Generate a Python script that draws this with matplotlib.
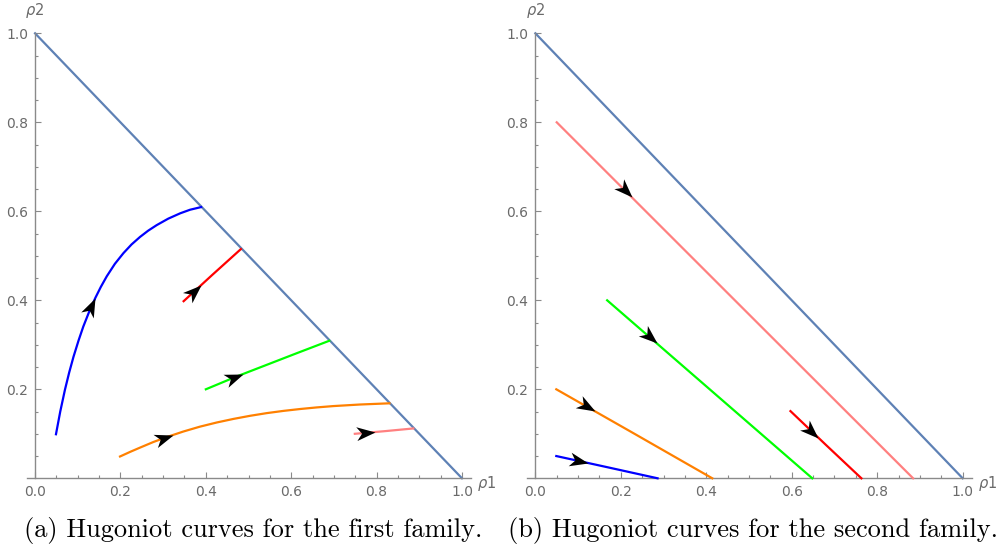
import numpy as np
import matplotlib
matplotlib.use('Agg')
import matplotlib.pyplot as plt
from matplotlib.path import Path
from matplotlib.markers import MarkerStyle
from matplotlib.transforms import Affine2D

# Curve data: (rho1, rho2) points
# first family (left panel)
fam1_blue_x = [0.049, 0.059, 0.070, 0.080, 0.090, 0.102, 0.113, 0.127, 0.141, 0.154,
               0.168, 0.187, 0.207, 0.226, 0.246, 0.265, 0.285, 0.312, 0.340, 0.363, 0.389]
fam1_blue_y = [0.099, 0.150, 0.199, 0.238, 0.273, 0.310, 0.341, 0.375, 0.405, 0.430,
               0.454, 0.482, 0.506, 0.5255, 0.5425, 0.5565, 0.569, 0.5835, 0.5955, 0.6035, 0.6095]
fam1_red_x = [0.348, 0.415, 0.482]
fam1_red_y = [0.398, 0.457, 0.515]
fam1_green_x = [0.400, 0.470, 0.540, 0.610, 0.689]
fam1_green_y = [0.200, 0.228, 0.254, 0.280, 0.309]
fam1_orange_x = [0.199, 0.223, 0.246, 0.277, 0.308, 0.347, 0.386, 0.426, 0.465, 0.504,
                 0.543, 0.582, 0.621, 0.660, 0.699, 0.761, 0.830]
fam1_orange_y = [0.049, 0.0595, 0.069, 0.0815, 0.0925, 0.105, 0.116, 0.1255, 0.1335, 0.1405,
                 0.1465, 0.1515, 0.1557, 0.1593, 0.1623, 0.1658, 0.1685]
fam1_pink_x = [0.749, 0.820, 0.886]
fam1_pink_y = [0.100, 0.106, 0.112]

# second family (right panel)
fam2_pink_x = [0.050, 0.470, 0.884]
fam2_pink_y = [0.800, 0.397, 0.000]
fam2_green_x = [0.168, 0.408, 0.648]
fam2_green_y = [0.400, 0.200, 0.000]
fam2_red_x = [0.597, 0.680, 0.763]
fam2_red_y = [0.151, 0.075, 0.000]
fam2_orange_x = [0.049, 0.232, 0.414]
fam2_orange_y = [0.200, 0.100, 0.000]
fam2_blue_x = [0.049, 0.168, 0.286]
fam2_blue_y = [0.050, 0.025, 0.000]

# where the arrowhead tips sit (rho1 value along each curve)
fam1_arrow_x = [0.141, 0.389, 0.486, 0.322, 0.796]
fam2_arrow_x = [0.226, 0.284, 0.662, 0.139, 0.124]

boundary_x = [0.0, 1.0]
boundary_y = [1.0, 0.0]

captions = ['(a) Hugoniot curves for the first family.',
            '(b) Hugoniot curves for the second family.']

BLUE, RED, GREEN, ORANGE, PINK = '#0000ff', '#ff0000', '#00ff00', '#ff8000', '#ff8080'
BOUND = '#5e81b5'
AXC = '#8a8a8a'
LBC = '#6a6a6a'

fam1 = [(fam1_blue_x, fam1_blue_y, BLUE), (fam1_red_x, fam1_red_y, RED),
        (fam1_green_x, fam1_green_y, GREEN), (fam1_orange_x, fam1_orange_y, ORANGE),
        (fam1_pink_x, fam1_pink_y, PINK)]
fam2 = [(fam2_pink_x, fam2_pink_y, PINK), (fam2_green_x, fam2_green_y, GREEN),
        (fam2_red_x, fam2_red_y, RED), (fam2_orange_x, fam2_orange_y, ORANGE),
        (fam2_blue_x, fam2_blue_y, BLUE)]

# notched arrowhead, tip at origin pointing +x
head = Path([(0, 0), (-1, 0.37), (-0.72, 0), (-1, -0.37), (0, 0)],
            [Path.MOVETO, Path.LINETO, Path.LINETO, Path.LINETO, Path.CLOSEPOLY])

fig = plt.figure(figsize=(9.97, 5.46), dpi=100)


def style_axes(ax):
    ax.set_xlim(-0.02, 1.022)
    ax.set_ylim(0, 1.0)
    for s in ['top', 'right']:
        ax.spines[s].set_visible(False)
    ax.spines['left'].set_position(('data', 0))
    ax.spines['left'].set_bounds(0, 1.0)
    for s in ['left', 'bottom']:
        ax.spines[s].set_color(AXC)
        ax.spines[s].set_linewidth(1.0)
    ax.set_xticks([0.0, 0.2, 0.4, 0.6, 0.8, 1.0])
    ax.set_yticks([0.2, 0.4, 0.6, 0.8, 1.0])
    ax.set_xticklabels(['0.0', '0.2', '0.4', '0.6', '0.8', '1.0'])
    ax.set_yticklabels(['0.2', '0.4', '0.6', '0.8', '1.0'])
    ax.set_xticks(np.arange(0.05, 1.0, 0.05), minor=True)
    ax.set_yticks(np.arange(0.05, 1.0, 0.05), minor=True)
    ax.tick_params(which='major', direction='in', length=4, width=0.8, color=AXC,
                   labelcolor=LBC, labelsize=10, pad=5)
    ax.tick_params(which='minor', direction='in', length=2.3, width=0.8, color=AXC)
    ax.text(1.035, -0.012, r'$\rho1$', color=LBC, fontsize=10.5, ha='left', va='center',
            clip_on=False)
    ax.text(0.0, 1.03, r'$\rho2$', color=LBC, fontsize=10.5, ha='center', va='bottom',
            clip_on=False)


def draw_panel(ax, curves, arrow_x):
    ax.plot(boundary_x, boundary_y, color=BOUND, lw=1.6, clip_on=False, zorder=2)
    for (xs, ys, c), ax_x in zip(curves, arrow_x):
        ax.plot(xs, ys, color=c, lw=1.6, clip_on=False, zorder=3)
        ty = np.interp(ax_x, xs, ys)
        # direction of the curve at the tip, in display space
        d = 0.012
        p0 = ax.transData.transform((ax_x - d, np.interp(ax_x - d, xs, ys)))
        p1 = ax.transData.transform((ax_x + d, np.interp(ax_x + d, xs, ys)))
        ang = np.arctan2(p1[1] - p0[1], p1[0] - p0[0])
        m = MarkerStyle(head, transform=Affine2D().rotate(ang))
        ax.plot([ax_x], [ty], marker=m, markersize=27, color='black',
                markeredgewidth=0, linestyle='none', zorder=4, clip_on=False)


ax1 = fig.add_axes([0.0266, 0.124, 0.4462, 0.815])
ax2 = fig.add_axes([0.5284, 0.124, 0.4466, 0.815])
for ax, curves, arr in [(ax1, fam1, fam1_arrow_x), (ax2, fam2, fam2_arrow_x)]:
    style_axes(ax)
    draw_panel(ax, curves, arr)

fig.text(0.254, 0.017, captions[0], family='cmr10', fontsize=19, ha='center', va='baseline')
fig.text(0.755, 0.017, captions[1], family='cmr10', fontsize=19, ha='center', va='baseline')

fig.savefig('out.png', dpi=100)
plt.close(fig)
